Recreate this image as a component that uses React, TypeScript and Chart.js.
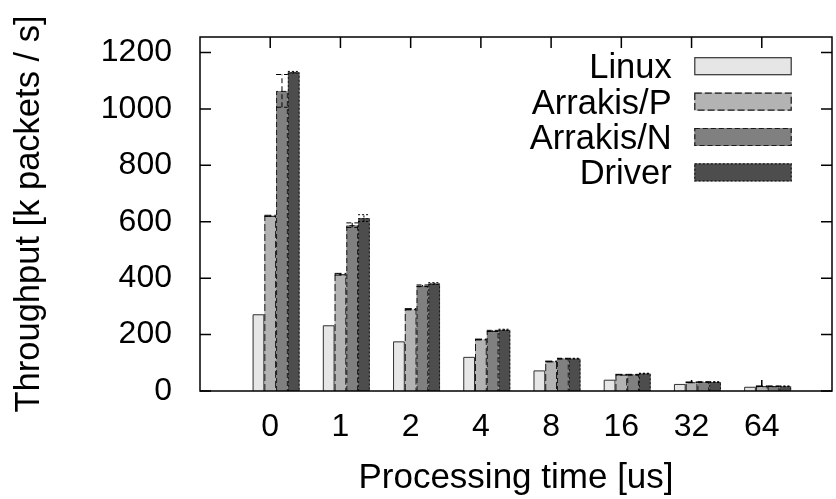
import React, { useEffect, useRef } from 'react';
import { Chart, registerables } from 'chart.js';

Chart.register(...registerables);

// ---- data ----
const categories = ['0', '1', '2', '4', '8', '16', '32', '64'];
const seriesNames = ['Linux', 'Arrakis/P', 'Arrakis/N', 'Driver'];
const linux = [272, 233, 176, 121, 73, 40, 25, 15];
const arrakisP = [621, 414, 290, 183, 105, 58, 31, 17];
const arrakisN = [1064, 588, 373, 213, 115, 58, 32, 17];
const driver = [1130, 613, 381, 217, 115, 62, 32, 17];
const linuxErr = [0, 0, 0, 0, 0, 0, 0, 0];
const arrakisPErr = [2, 3, 2, 1, 1, 1, 1, 1];
const arrakisNErr = [58, 8, 3, 2, 1, 1, 1, 1];
const driverErr = [3, 12, 3, 2, 1, 1, 1, 1];
const yTicks = [0, 200, 400, 600, 800, 1000, 1200];
const yMax = 1255;
const xTitle = 'Processing time [us]';
const yTitle = 'Throughput [k packets / s]';

// ---- styles ----
const fills = ['#e6e6e6', '#b3b3b3', '#808080', '#4d4d4d'];
const edges = ['#333333', '#1a1a1a', '#1a1a1a', '#1a1a1a'];
const dashes = [[], [7, 3], [5, 3], [2, 2]];
const FONT = '"Liberation Sans", Arial, Helvetica, sans-serif';

export default function App() {
  const ref = useRef<HTMLCanvasElement>(null);

  useEffect(() => {
    document.body.style.margin = '0';
    const canvas = ref.current!;
    const series = [linux, arrakisP, arrakisN, driver];
    const errs = [linuxErr, arrakisPErr, arrakisNErr, driverErr];

    // leading empty dataset reproduces gnuplot's cluster gap slot
    const datasets: any[] = [
      { label: '', data: [], backgroundColor: 'rgba(0,0,0,0)', borderWidth: 0, spacer: true },
    ];
    series.forEach((vals, k) => {
      datasets.push({
        label: seriesNames[k],
        data: vals.map((v, i) => ({ x: i, y: v })),
        backgroundColor: fills[k],
        borderWidth: 0,
        err: errs[k],
        dash: dashes[k],
        edge: edges[k],
      });
    });

    const decor = {
      id: 'decor',
      beforeDatasetsDraw(chart: any) {
        const { ctx, chartArea: a, scales } = chart;
        ctx.save();
        ctx.strokeStyle = '#000';
        ctx.lineWidth = 1.5;
        ctx.beginPath();
        yTicks.forEach((v) => {
          const py = scales.y.getPixelForValue(v);
          ctx.moveTo(a.left, py);
          ctx.lineTo(a.left + 11, py);
          ctx.moveTo(a.right, py);
          ctx.lineTo(a.right - 11, py);
        });
        categories.forEach((_, i) => {
          const px = scales.x.getPixelForValue(i);
          ctx.moveTo(px, a.top);
          ctx.lineTo(px, a.top + 11);
          ctx.moveTo(px, a.bottom);
          ctx.lineTo(px, a.bottom - 11);
        });
        ctx.stroke();
        ctx.restore();
      },
      afterDatasetsDraw(chart: any) {
        const { ctx, chartArea: a, scales } = chart;
        ctx.save();
        chart.data.datasets.forEach((ds: any, di: number) => {
          if (ds.spacer) return;
          const meta = chart.getDatasetMeta(di);
          meta.data.forEach((el: any, i: number) => {
            const { x, y, base, width } = el.getProps(['x', 'y', 'base', 'width'], true);
            const l = x - width / 2;
            ctx.setLineDash(ds.dash);
            ctx.strokeStyle = ds.edge;
            ctx.lineWidth = 1;
            ctx.beginPath();
            ctx.moveTo(l + 0.5, base);
            ctx.lineTo(l + 0.5, y + 0.5);
            ctx.lineTo(l + width - 0.5, y + 0.5);
            ctx.lineTo(l + width - 0.5, base);
            ctx.stroke();
            const e = ds.err[i];
            if (e > 0) {
              const v = ds.data[i].y;
              const hi = scales.y.getPixelForValue(v + e);
              const lo = scales.y.getPixelForValue(v - e);
              ctx.strokeStyle = '#000';
              ctx.beginPath();
              ctx.moveTo(x, lo);
              ctx.lineTo(x, hi);
              ctx.moveTo(l, hi);
              ctx.lineTo(l + width, hi);
              ctx.moveTo(l, lo);
              ctx.lineTo(l + width, lo);
              ctx.stroke();
            }
          });
        });
        ctx.setLineDash([]);
        ctx.strokeStyle = '#000';
        ctx.lineWidth = 1.5;
        ctx.strokeRect(a.left, a.top, a.right - a.left, a.bottom - a.top);
        ctx.restore();
      },
      afterDraw(chart: any) {
        const { ctx, chartArea: a } = chart;
        ctx.save();
        ctx.font = `34.5px ${FONT}`;
        ctx.textAlign = 'right';
        ctx.textBaseline = 'alphabetic';
        const boxL = a.right - 137.7;
        const boxW = 97.4;
        const boxH = 18;
        seriesNames.forEach((name, k) => {
          const cy = a.top + 29.2 + k * 35.4;
          ctx.fillStyle = '#000';
          ctx.fillText(name, a.right - 160.3, cy + 12);
          ctx.fillStyle = fills[k];
          ctx.fillRect(boxL, cy - boxH / 2, boxW, boxH);
          ctx.setLineDash(dashes[k]);
          ctx.strokeStyle = edges[k];
          ctx.lineWidth = 1.2;
          ctx.strokeRect(boxL + 0.5, cy - boxH / 2 + 0.5, boxW - 1, boxH - 1);
        });
        ctx.restore();
      },
    };

    const chart = new Chart(canvas, {
      type: 'bar',
      data: { datasets },
      options: {
        animation: false,
        responsive: false,
        devicePixelRatio: 1,
        layout: { padding: { top: 37, right: 4, left: 0, bottom: 0 } },
        plugins: { legend: { display: false }, tooltip: { enabled: false } },
        datasets: { bar: { categoryPercentage: 0.8367, barPercentage: 1 } },
        scales: {
          x: {
            type: 'linear',
            min: -1,
            max: categories.length,
            offset: false,
            grid: { display: false, drawTicks: true, tickLength: 17 },
            border: { display: false },
            ticks: {
              stepSize: 1,
              autoSkip: false,
              maxRotation: 0,
              padding: 0,
              color: '#000',
              font: { family: FONT, size: 32 },
              callback: (v: any) => (categories[v] !== undefined ? categories[v] : ''),
            },
            title: {
              display: true,
              text: xTitle,
              color: '#000',
              font: { family: FONT, size: 35 },
              padding: { top: 0, bottom: 0 },
            },
            afterFit: (s: any) => { s.height = 108; },
          },
          y: {
            min: 0,
            max: yMax,
            grid: { display: false, drawTicks: true, tickLength: 28 },
            border: { display: false },
            ticks: {
              stepSize: 200,
              includeBounds: false,
              padding: 0,
              color: '#000',
              font: { family: FONT, size: 32 },
              callback: (v: any) => String(v),
            },
            title: {
              display: true,
              text: yTitle,
              color: '#000',
              font: { family: FONT, size: 34.5 },
              padding: { top: 9, bottom: 0 },
            },
            afterFit: (s: any) => { s.width = 200; },
          },
        },
      } as any,
      plugins: [decor],
    });
    return () => chart.destroy();
  }, []);

  return <canvas ref={ref} width={836} height={499} style={{ display: 'block' }} />;
}
